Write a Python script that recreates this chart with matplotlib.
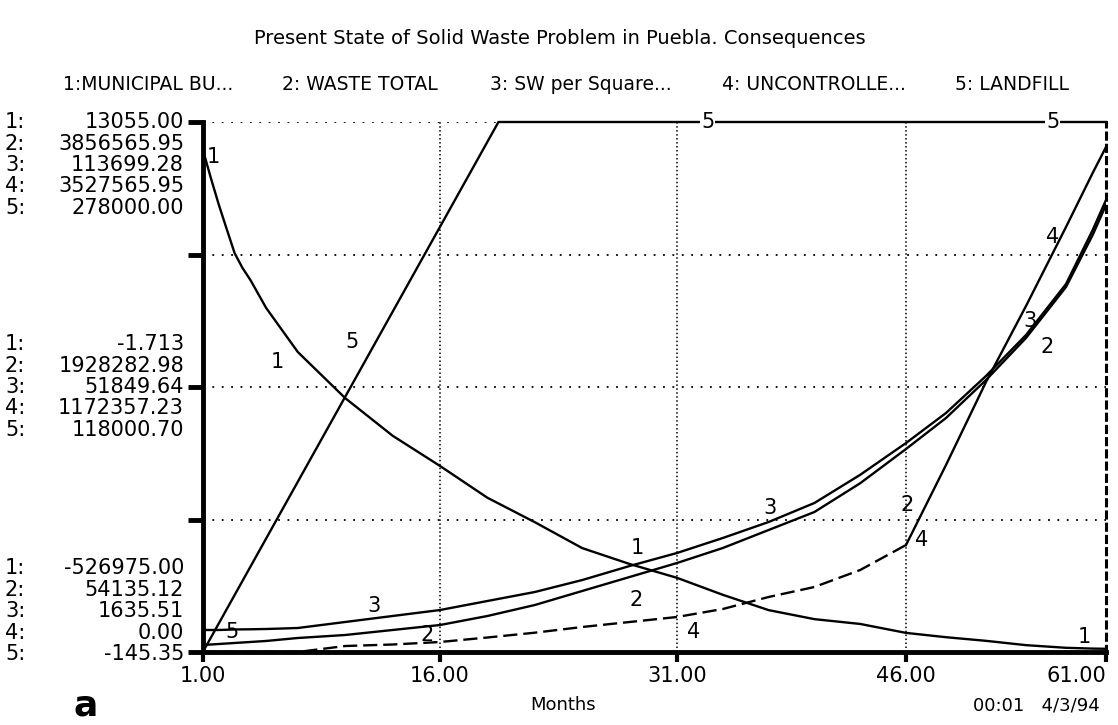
import numpy as np
import matplotlib.pyplot as plt
from matplotlib.transforms import blended_transform_factory

plt.rcParams["font.family"] = ["DejaVu Sans"]

# time axis (months) shared by series 1-4
months = [1, 1.5, 2, 2.5, 3, 3.5, 4, 5, 6, 7, 10, 13, 16, 19, 22, 25, 28, 31, 34, 37, 40,
          43, 46, 49, 52, 55, 58, 60, 61]

municipal_budget = [-15600, -44200, -71200, -96000, -120500, -135700, -147900, -176500,
                    -198900, -221300, -268300, -306600, -337400, -369800, -394700, -421100,
                    -437300, -451400, -468700, -484300, -493500, -498400, -507500, -511900,
                    -515600, -520000, -522700, -523500, -523700]
waste_total = [104400, 108000, 111500, 115100, 118800, 122400, 126000, 133300, 144000,
               154600, 176100, 212000, 247800, 312400, 391300, 491800, 592200, 692600,
               800200, 929300, 1058500, 1265000, 1510500, 1732900, 2005500, 2307000,
               2672700, 3045900, 3261100]
sw_per_square = [6290, 6290, 6290, 6340, 6400, 6420, 6440, 6500, 6600, 6710, 7980, 9250,
                 10510, 12420, 14320, 16850, 19820, 22570, 25740, 29120, 33140, 39100,
                 45820, 52170, 60000, 68660, 79440, 90860, 97200]
uncontrolled = [0, 0, 0, 0, 0, 0, 0, 0, 0, 0, 39900, 49900, 66600, 96500, 128500, 166400,
                199700, 233000, 286200, 366100, 432600, 545800, 712200, 1244600, 1797100,
                2302900, 2828700, 3188100, 3361200]

# landfill rises linearly and then sits at its capacity
landfill_months = [1, 19.7, 61]
landfill = [0, 278000, 278000]

# each curve has its own vertical scale (STELLA style)
scale_min = [-526975.00, 54135.12, 1635.51, 0.00, -145.35]
scale_max = [13055.00, 3856565.95, 113699.28, 3527565.95, 278000.00]
mid_labels = ["-1.713", "1928282.98", "51849.64", "1172357.23", "118000.70"]
legend_names = ["1:MUNICIPAL BU...", "2: WASTE TOTAL", "3: SW per Square...",
                "4: UNCONTROLLE...", "5: LANDFILL"]

# month gridlines are not evenly spaced on the printed chart
grid_months = [1, 16, 31, 46, 61]
grid_px = [0, 237, 474, 703, 903]


def fwd(m):
    return np.interp(m, grid_months, grid_px)


def inv(p):
    return np.interp(p, grid_px, grid_months)


def norm(vals, i):
    return (np.asarray(vals, dtype=float) - scale_min[i]) / (scale_max[i] - scale_min[i])


W, H = 1118, 725
fig = plt.figure(figsize=(W / 100, H / 100), dpi=100)
ax = fig.add_axes([203 / W, 1 - 652 / H, 903 / W, 530 / H])
ax.set_xscale("function", functions=(fwd, inv))
ax.set_xlim(1, 61)
ax.set_ylim(0, 1)

# dotted grid
for g in [0.25, 0.5, 0.75, 1.0]:
    ax.axhline(g, color="black", lw=1.3, ls=(0, (1, 4.2)), zorder=1)
for g in grid_months[1:-1]:
    ax.axvline(g, color="black", lw=1.1, ls=(0, (1, 1.6)), zorder=1)

lw = 1.7
ax.plot(months, norm(municipal_budget, 0), color="black", lw=lw, zorder=3)
ax.plot(months, norm(waste_total, 1), color="black", lw=lw, zorder=3)
ax.plot(months, norm(sw_per_square, 2), color="black", lw=lw, zorder=3)
k = months.index(46)
ax.plot(months[:k + 1], norm(uncontrolled[:k + 1], 3), color="black", lw=lw,
        ls=(0, (6, 2.5)), zorder=3)
ax.plot(months[k:], norm(uncontrolled[k:], 3), color="black", lw=lw, zorder=3)
ax.plot(landfill_months, norm(landfill, 4), color="black", lw=lw, zorder=3, clip_on=False)

# curve number tags
tags = [("1", 1.63, 0.934), ("1", 5.7, 0.547), ("1", 28.5, 0.196), ("1", 59.4, 0.028),
        ("2", 15.2, 0.032), ("2", 28.4, 0.098), ("2", 46.1, 0.277), ("2", 56.6, 0.575),
        ("3", 11.8, 0.087), ("3", 37.1, 0.272), ("3", 55.3, 0.625),
        ("4", 32.1, 0.038), ("4", 47.2, 0.211), ("4", 57.0, 0.783),
        ("5", 2.84, 0.038), ("5", 10.4, 0.585)]
for t, x, y in tags:
    ax.text(x, y, t, fontsize=15, ha="center", va="center", zorder=4)
for x in [33.0, 57.0]:
    ax.text(x, 1.0, "5", fontsize=15, ha="center", va="center", zorder=5,
            bbox=dict(facecolor="white", edgecolor="none", pad=0.5), clip_on=False)

# axes frame
for s in ["left", "bottom"]:
    ax.spines[s].set_linewidth(3.5)
ax.spines["top"].set_visible(False)
ax.spines["right"].set_linewidth(2.2)
ax.spines["right"].set_linestyle((0, (2, 2)))

ax.set_yticks([0, 0.25, 0.5, 0.75, 1.0])
ax.set_yticklabels([])
ax.tick_params(axis="y", length=11, width=3.5, direction="out")
ax.set_xticks(grid_months)
ax.set_xticklabels([f"{m:.2f}" for m in grid_months], fontsize=15)
ax.tick_params(axis="x", length=7, width=3, direction="out", pad=3)
ax.xaxis.set_minor_locator(plt.NullLocator())
ax.get_xticklabels()[-1].set_ha("right")

# stacked scale labels on the left
tr = blended_transform_factory(fig.transFigure, ax.transAxes)
row = 21.5 / 530
blocks = [
    ([f"{v:.2f}" for v in scale_max], [1.0 - i * row for i in range(5)]),
    (mid_labels, [0.5 + (2 - i) * row for i in range(5)]),
    ([f"{v:.2f}" for v in scale_min], [(4 - i) * row - 0.004 for i in range(5)]),
]
for labels, ys in blocks:
    for i, (lab, y) in enumerate(zip(labels, ys)):
        fig.text(5 / W, y, f"{i + 1}:", transform=tr, fontsize=15, va="center")
        fig.text(184 / W, y, lab, transform=tr, fontsize=15, va="center", ha="right")

# title and legend row
fig.text(560 / W, 1 - 38 / H, "Present State of Solid Waste Problem in Puebla. Consequences",
         fontsize=14, ha="center", va="center")
for name, x in zip(legend_names, [63, 282, 490, 722, 955]):
    fig.text(x / W, 1 - 84 / H, name, fontsize=13.5, va="center")

fig.text(563 / W, 1 - 705 / H, "Months", fontsize=13, ha="center", va="center")
fig.text(1100 / W, 1 - 705 / H, "00:01   4/3/94", fontsize=13, ha="right", va="center")
fig.text(86 / W, 1 - 705 / H, "a", fontsize=26, fontweight="bold", ha="center", va="center")

fig.savefig("out.png", dpi=100)
